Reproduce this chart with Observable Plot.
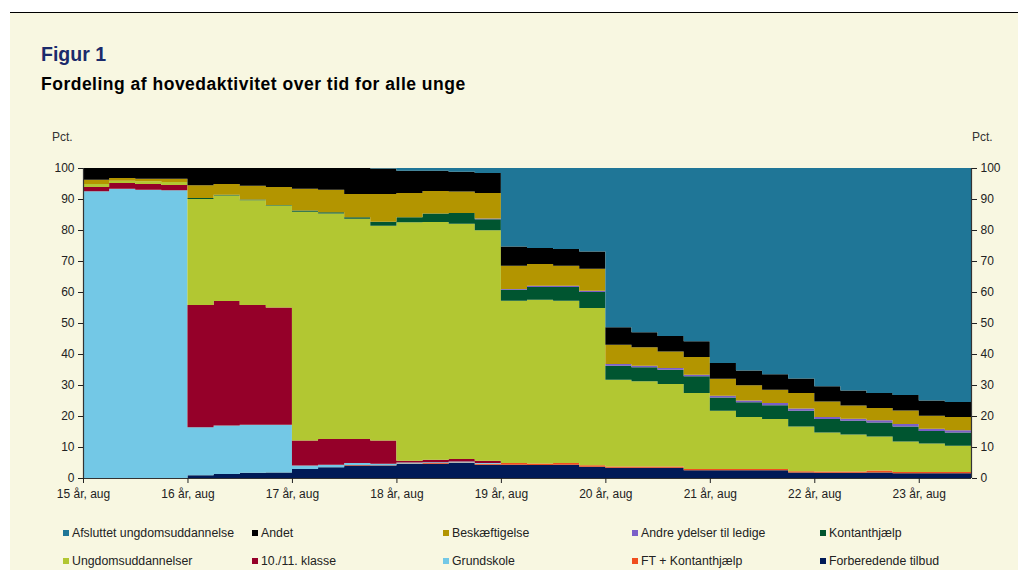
<!DOCTYPE html>
<html><head><meta charset="utf-8">
<script src="https://cdn.jsdelivr.net/npm/d3@7"></script>
<script src="https://cdn.jsdelivr.net/npm/@observablehq/plot@0.6"></script>
<style>
html,body{margin:0;padding:0;background:#fff;}
body{width:1018px;height:570px;position:relative;overflow:hidden;font-family:"Liberation Sans",Arial,sans-serif;}
#panel{position:absolute;left:10px;top:13px;width:1008px;height:557px;background:#F8F7E1;}
#rule{position:absolute;left:10px;top:12px;width:1008px;height:1px;background:#000;}
#title{position:absolute;left:41px;top:43px;font-size:19.5px;font-weight:bold;color:#1B2A6B;white-space:nowrap;}
#subtitle{position:absolute;left:41px;top:74px;font-size:17.5px;letter-spacing:0.5px;font-weight:bold;color:#000;white-space:nowrap;}
.pct{position:absolute;top:130px;font-size:12px;color:#333;}
#chart{position:absolute;left:0;top:150px;}
.leg{position:absolute;font-size:12.3px;color:#222;white-space:nowrap;line-height:14px;}
.sw{display:inline-block;width:6px;height:6px;margin-right:3px;vertical-align:1px;}
</style></head>
<body>
<div id="rule"></div>
<div id="panel"></div>
<div id="title">Figur 1</div>
<div id="subtitle">Fordeling af hovedaktivitet over tid for alle unge</div>
<div class="pct" style="left:52px">Pct.</div>
<div class="pct" style="left:972px">Pct.</div>
<div id="chart"></div>
<div id="legend"></div>
<script>
// Series (bottom to top of the stack)
const seriesNames = [
  "Forberedende tilbud", "FT + Kontanthjælp", "Grundskole", "10./11. klasse",
  "Ungdomsuddannelser", "Kontanthjælp", "Andre ydelser til ledige",
  "Beskæftigelse", "Andet", "Afsluttet ungdomsuddannelse"
];
const seriesColors = [
  "#001A57", "#F04E1E", "#73C8E6", "#950029",
  "#B2C732", "#005530", "#7B5FC8",
  "#B39500", "#000000", "#1F7697"
];
// Quarterly values (pct.), 15 år aug ... 23 år nov
const forberedende = [0,0,0,0, 0.9,1.3,1.7,1.8, 2.9,3.5,4.0,4.0, 4.5,4.6,4.8,4.3, 4.3,4.2,4.3,3.6, 3.3,3.3,3.3,2.5, 2.5,2.5,2.5,1.8, 1.7,1.7,1.8,1.5, 1.5,1.5];
const ftKontant = [0,0,0,0, 0,0,0,0, 0,0,0.2,0.1, 0.2,0.2,0.2,0.3, 0.5,0.5,0.5,0.5, 0.4,0.4,0.4,0.4, 0.4,0.4,0.4,0.4, 0.4,0.4,0.6,0.4, 0.4,0.4];
const grundskole = [92.5,93.3,93.0,92.8, 15.5,15.6,15.5,15.4, 1.1,0.8,0.6,0.5, 0.3,0.3,0.3,0.2, 0,0,0,0, 0,0,0,0, 0,0,0,0, 0,0,0,0, 0,0];
const klasse1011 = [1.4,1.9,1.8,1.7, 39.4,40.2,38.6,37.8, 8.1,8.3,7.8,7.5, 0.6,0.8,0.8,0.8, 0,0,0,0, 0,0,0,0, 0,0,0,0, 0,0,0,0, 0,0];
const ungdomsudd = [0.9,0.7,0.9,1.0, 34.2,34.0,33.8,32.9, 73.8,72.7,71.0,69.3, 76.9,76.7,75.9,74.3, 52.4,52.8,52.4,50.7, 28.0,27.5,26.6,24.5, 18.8,16.8,16.1,14.4, 12.6,11.9,11.0,9.9, 9.2,8.5];
const kontant = [0,0,0,0, 0.3,0.3,0.2,0.2, 0.4,0.4,0.5,1.3, 1.6,2.7,3.5,3.6, 3.5,4.1,4.4,5.2, 4.5,4.5,4.6,5.4, 4.3,4.7,4.5,5.1, 4.3,4.5,4.5,4.8, 4.1,4.3];
const andreYdelser = [0,0,0,0, 0,0,0,0, 0,0,0,0, 0,0,0,0.2, 0.3,0.4,0.4,0.4, 0.6,0.5,0.6,0.5, 0.5,0.6,0.7,0.7, 0.7,0.6,0.7,0.8, 0.7,0.7];
const beskaeftigelse = [1.4,0.9,0.8,1.0, 4.1,3.4,4.5,5.8, 7.0,7.3,7.5,8.9, 7.8,7.3,6.9,8.2, 7.5,7.0,6.5,7.1, 6.2,6.0,5.3,5.7, 5.5,4.9,4.3,5.0, 5.0,4.3,4.0,4.4, 4.2,4.3];
const andet = [3.8,3.2,3.5,3.5, 5.6,5.2,5.7,6.1, 6.7,7.0,8.4,8.2, 7.2,6.5,6.4,6.5, 6.2,5.2,5.4,5.6, 5.6,4.8,5.0,5.1, 5.1,4.8,5.0,4.7, 4.9,4.8,4.8,5.0, 4.9,4.8];
const afsluttet = [0,0,0,0, 0,0,0,0, 0,0,0,0.2, 0.9,0.9,1.2,1.6, 25.3,25.8,26.1,26.9, 51.4,53.0,54.2,55.9, 62.9,65.3,66.5,67.9, 70.4,71.8,72.6,73.2, 75.0,75.5];

const seriesValues = [forberedende, ftKontant, grundskole, klasse1011, ungdomsudd, kontant, andreYdelser, beskaeftigelse, andet, afsluttet];

const xTickLabels = ["15 år, aug","16 år, aug","17 år, aug","18 år, aug","19 år, aug","20 år, aug","21 år, aug","22 år, aug","23 år, aug"];
const yTicks = [0,10,20,30,40,50,60,70,80,90,100];

// legend layout order (2 rows)
const legendOrder = [
  "Afsluttet ungdomsuddannelse","Andet","Beskæftigelse","Andre ydelser til ledige","Kontanthjælp",
  "Ungdomsuddannelser","10./11. klasse","Grundskole","FT + Kontanthjælp","Forberedende tilbud"
];

const nQ = forberedende.length;
const rows = [];
for (let q = 0; q <= nQ; q++) {
  const src = Math.min(q, nQ - 1); // last quarter held to the end of its period
  seriesNames.forEach((s, k) => rows.push({q, s, v: seriesValues[k][src]}));
}
const xTicks = xTickLabels.map((_, i) => i * 4);

const chart = Plot.plot({
  width: 1018, height: 360,
  marginTop: 18, marginBottom: 32, marginLeft: 83, marginRight: 47,
  style: {background: "transparent", fontFamily: "'Liberation Sans', Arial, sans-serif", fontSize: "12px", color: "#222"},
  x: {domain: [0, nQ], label: null},
  y: {domain: [0, 100], label: null},
  color: {domain: seriesNames, range: seriesColors},
  marks: [
    Plot.areaY(rows, {x: "q", y: "v", z: "s", fill: "s", curve: "step-after", order: seriesNames}),
    Plot.ruleX([0, nQ], {stroke: "#333", strokeWidth: 1.2}),
    Plot.ruleY([0], {stroke: "#333", strokeWidth: 1.2}),
    Plot.axisY({anchor: "left", ticks: yTicks, tickSize: 5, tickPadding: 4, label: null}),
    Plot.axisY({anchor: "right", ticks: yTicks, tickSize: 5, tickPadding: 4, label: null}),
    Plot.axisX({ticks: xTicks, tickFormat: d => xTickLabels[d / 4], tickSize: 5, tickPadding: 6, label: null})
  ]
});
document.getElementById("chart").appendChild(chart);

const colX = [63, 252, 443, 632, 820];
const rowY = [526, 554];
const leg = document.getElementById("legend");
legendOrder.forEach((name, i) => {
  const d = document.createElement("div");
  d.className = "leg";
  d.style.left = colX[i % 5] + "px";
  d.style.top = rowY[Math.floor(i / 5)] + "px";
  const sw = document.createElement("span");
  sw.className = "sw";
  sw.style.background = seriesColors[seriesNames.indexOf(name)];
  d.appendChild(sw);
  d.appendChild(document.createTextNode(name));
  leg.appendChild(d);
});
</script>
</body></html>
